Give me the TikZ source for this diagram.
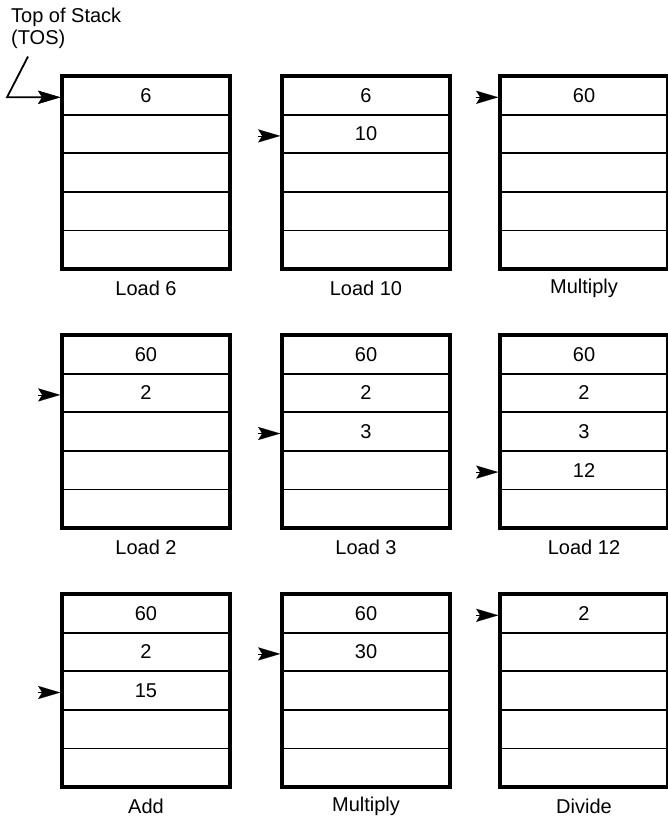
\documentclass[tikz,border=0pt]{standalone}
\usepackage{fontspec}
\setmainfont{Liberation Sans}
\usetikzlibrary{arrows.meta,calc}
\tikzset{
  cell/.style={draw,line width=1.8pt,minimum width=168pt,minimum height=38.6pt,inner sep=0pt,outer sep=0pt},
  frame/.style={line width=3.5pt},
  pointer/.style={line width=1.8pt,-{Stealth[length=22pt,width=13pt,inset=4pt]}},
}
\begin{document}
\begin{tikzpicture}[x=1pt,y=-1pt,font=\fontsize{20}{21.5}\selectfont]
        \useasboundingbox (0,0) rectangle (668,819);
        %% stacks
        \foreach \s/\cx/\cy/\op/\tos/\vals in {
            a/62/76/Load 6/1/{6},
            b/282/76/Load 10/2/{6,10},
            c/500/76/Multiply/1/{60},
            d/62/335/Load 2/2/{60,2},
            e/282/335/Load 3/3/{60,2,3},
            f/500/335/Load 12/4/{60,2,3,12},
            g/62/594/Add/3/{60,2,15},
            h/282/594/Multiply/2/{60,30},
            k/500/594/Divide/1/{2}} {
            \foreach \i in {1,...,5}
                \node[cell] (\s\i) at (\cx+84,\cy+19.3+38.6*\i-38.6) {};
            \draw[frame] (\s1.north west) rectangle (\s5.south east);
            \foreach \v [count=\i] in \vals
                \node at (\s\i) {\v};
            \node (\s-op) at ($(\s5.south)+(0,19)$) {\op};
            %% stack pointer
            \draw[pointer,line width=0.1pt] ($(\s\tos.west)+(-24,2)$) -- ($(\s\tos.west)+(-1.8,2)$);
        }
        %% label
        \node[align=left,anchor=north west,inner sep=0pt] (tos) at (11,8) {Top of Stack\\(TOS)};
        \draw[pointer] ($(tos.south west)+(17,8)$) -- ($(a1.west)+(-55,2)$) -- ($(a1.west)+(-1.8,2)$);
\end{tikzpicture}
\end{document}
